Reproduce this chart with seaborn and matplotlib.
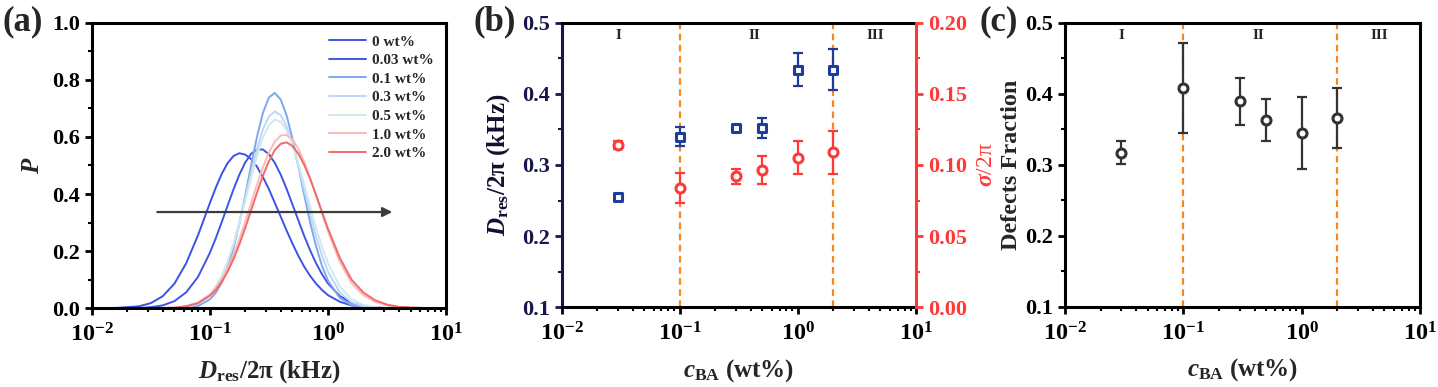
import numpy as np
import matplotlib
matplotlib.use("Agg")
import matplotlib.pyplot as plt
from matplotlib.ticker import MultipleLocator, LogLocator, NullFormatter, FormatStrFormatter
import seaborn as sns

# panel (a): P(D_res/2pi) on a log10 grid
log_d_grid = [-2.0, -1.8, -1.6, -1.5, -1.4, -1.3, -1.2, -1.1,
              -1.0, -0.95, -0.9, -0.85, -0.8, -0.75, -0.7, -0.65, -0.6, -0.55,
              -0.5, -0.45, -0.4, -0.35, -0.3, -0.25, -0.2, -0.15, -0.1, -0.05,
              0.0, 0.1, 0.2, 0.3, 0.4, 0.5, 0.6, 0.8, 1.0]
conc_labels = ["0 wt%", "0.03 wt%", "0.1 wt%", "0.3 wt%", "0.5 wt%", "1.0 wt%", "2.0 wt%"]
curve_colors = ["#3b52e6", "#3f56e4", "#80a6ef", "#bfd5f7", "#cdeaed", "#fcbaba", "#f26a6a"]

p_0wt = [0.000, 0.001, 0.007, 0.018, 0.042, 0.086, 0.158, 0.256,
         0.368, 0.422, 0.470, 0.508, 0.533, 0.543, 0.538, 0.522, 0.495, 0.459,
         0.417, 0.369, 0.321, 0.272, 0.226, 0.183, 0.145, 0.113, 0.086, 0.064,
         0.046, 0.023, 0.010, 0.004, 0.002, 0.001, 0.000, 0.000, 0.000]
p_003wt = [0.000, 0.000, 0.001, 0.004, 0.010, 0.025, 0.056, 0.110,
           0.194, 0.245, 0.301, 0.359, 0.416, 0.468, 0.511, 0.541, 0.556, 0.556,
           0.539, 0.509, 0.468, 0.418, 0.363, 0.307, 0.252, 0.202, 0.157, 0.119,
           0.087, 0.043, 0.019, 0.008, 0.003, 0.001, 0.000, 0.000, 0.000]
p_01wt = [0.000, 0.000, 0.000, 0.000, 0.000, 0.000, 0.002, 0.008,
          0.031, 0.054, 0.089, 0.141, 0.210, 0.296, 0.396, 0.502, 0.602, 0.685,
          0.738, 0.754, 0.731, 0.675, 0.593, 0.496, 0.395, 0.299, 0.216, 0.148,
          0.097, 0.036, 0.011, 0.003, 0.001, 0.000, 0.000, 0.000, 0.000]
p_03wt = [0.000, 0.000, 0.000, 0.000, 0.000, 0.001, 0.004, 0.015,
          0.044, 0.070, 0.108, 0.160, 0.224, 0.302, 0.388, 0.476, 0.559, 0.627,
          0.672, 0.689, 0.676, 0.636, 0.574, 0.497, 0.413, 0.329, 0.251, 0.184,
          0.129, 0.056, 0.021, 0.007, 0.002, 0.000, 0.000, 0.000, 0.000]
p_05wt = [0.000, 0.000, 0.000, 0.000, 0.000, 0.001, 0.005, 0.018,
          0.049, 0.076, 0.113, 0.163, 0.225, 0.297, 0.376, 0.458, 0.534, 0.598,
          0.641, 0.661, 0.653, 0.623, 0.572, 0.506, 0.432, 0.355, 0.281, 0.215,
          0.158, 0.076, 0.032, 0.012, 0.004, 0.001, 0.000, 0.000, 0.000]
p_10wt = [0.000, 0.000, 0.000, 0.000, 0.001, 0.002, 0.008, 0.020,
          0.048, 0.071, 0.101, 0.140, 0.187, 0.242, 0.304, 0.369, 0.434, 0.494,
          0.546, 0.584, 0.605, 0.607, 0.591, 0.558, 0.512, 0.456, 0.394, 0.331,
          0.269, 0.163, 0.088, 0.046, 0.022, 0.010, 0.004, 0.001, 0.000]
p_20wt = [0.000, 0.000, 0.000, 0.000, 0.001, 0.002, 0.007, 0.018,
          0.044, 0.064, 0.092, 0.128, 0.172, 0.224, 0.282, 0.344, 0.406, 0.465,
          0.515, 0.554, 0.576, 0.581, 0.568, 0.541, 0.501, 0.452, 0.396, 0.337,
          0.279, 0.177, 0.100, 0.055, 0.028, 0.013, 0.005, 0.001, 0.000]
curves = [p_0wt, p_003wt, p_01wt, p_03wt, p_05wt, p_10wt, p_20wt]

# panels (b), (c)
c_ba = [0.03, 0.1, 0.3, 0.5, 1.0, 2.0]
d_res = [0.255, 0.340, 0.352, 0.352, 0.434, 0.434]
d_res_err = [0.003, 0.014, 0.004, 0.0135, 0.0235, 0.029]
sigma = [0.114, 0.084, 0.092, 0.0965, 0.105, 0.109]
sigma_err = [0.003, 0.0107, 0.0055, 0.010, 0.0115, 0.0152]
defects = [0.317, 0.408, 0.389, 0.363, 0.345, 0.366]
defects_err = [0.016, 0.063, 0.033, 0.030, 0.051, 0.042]
boundaries = [0.1, 2.0]
region_names = ["I", "II", "III"]
region_x = [0.03, 0.43, 4.5]

NAVY = "#161650"
BLUE = "#1d3c9c"
RED = "#ff3838"
ORANGE = "#f5891f"
GREY = "#333333"

sns.set_theme(style="ticks")
plt.rcParams["font.family"] = ["Liberation Serif", "DejaVu Serif"]
plt.rcParams["font.weight"] = "bold"
plt.rcParams["axes.labelweight"] = "bold"
plt.rcParams["mathtext.fontset"] = "custom"
plt.rcParams["mathtext.rm"] = "Liberation Serif:bold"
plt.rcParams["mathtext.it"] = "Liberation Serif:italic:bold"
plt.rcParams["mathtext.bf"] = "Liberation Serif:bold"
plt.rcParams["mathtext.sf"] = "Liberation Serif:italic"
plt.rcParams["axes.edgecolor"] = "black"
plt.rcParams["xtick.color"] = "black"
plt.rcParams["ytick.color"] = "black"


def style_axes(ax):
    ax.set_xscale("log")
    ax.set_xlim(1e-2, 1e1)
    for sp in ax.spines.values():
        sp.set_linewidth(2.2)
        sp.set_visible(True)
    ax.tick_params(which="major", length=5, width=2, labelsize=16)
    ax.tick_params(which="minor", length=3, width=1.5)
    ax.tick_params(axis="x", which="major", pad=6, labelsize=17.5)
    ax.xaxis.set_minor_locator(LogLocator(base=10, subs=np.arange(2, 10), numticks=20))
    ax.xaxis.set_minor_formatter(NullFormatter())
    ax.grid(False)


fig = plt.figure(figsize=(14.38, 3.87), dpi=100)
ax_a = fig.add_axes([0.0638, 0.2034, 0.2464, 0.738])
ax_b = fig.add_axes([0.3906, 0.2060, 0.2464, 0.7354])
ax_c = fig.add_axes([0.7406, 0.2075, 0.2469, 0.7339])

# ---- (a) ----
d_vals = 10 ** np.array(log_d_grid)
for p, lab, col in zip(curves, conc_labels, curve_colors):
    sns.lineplot(x=d_vals, y=p, color=col, lw=1.4, label=lab, ax=ax_a, sort=True)
style_axes(ax_a)
ax_a.set_ylim(0, 1.0)
ax_a.yaxis.set_major_locator(MultipleLocator(0.2))
ax_a.yaxis.set_minor_locator(MultipleLocator(0.1))
ax_a.yaxis.set_major_formatter(FormatStrFormatter("%.1f"))
ax_a.annotate("", xy=(3.7, 0.337), xytext=(0.034, 0.337),
              arrowprops=dict(arrowstyle="-|>", color="#3c3c3c", lw=1.6, mutation_scale=14))
ax_a.legend(frameon=False, loc="upper right", bbox_to_anchor=(1.0, 1.0), fontsize=11,
            handlelength=2.4, handletextpad=0.4, labelspacing=0.32, borderaxespad=0.4)
ax_a.set_xlabel(r"$D_{\mathrm{res}}$/2π (kHz)", fontsize=18)
ax_a.set_ylabel(r"$P$", fontsize=18)
ax_a.xaxis.set_label_coords(0.5, -0.175)
ax_a.yaxis.set_label_coords(-0.135, 0.5)

# ---- (b) ----
ax_b2 = ax_b.twinx()
ax_b.errorbar(c_ba, d_res, yerr=d_res_err, fmt="none", ecolor=BLUE, elinewidth=1.6,
              capsize=3.5, capthick=1.6, zorder=2)
sns.scatterplot(x=c_ba, y=d_res, marker="s", s=36, facecolor="white", edgecolor=BLUE,
                linewidth=2.2, ax=ax_b, zorder=3)
ax_b2.errorbar(c_ba, sigma, yerr=sigma_err, fmt="none", ecolor=RED, elinewidth=1.6,
               capsize=3.5, capthick=1.6, zorder=2)
sns.scatterplot(x=c_ba, y=sigma, marker="o", s=42, facecolor="white", edgecolor=RED,
                linewidth=2.2, ax=ax_b2, zorder=3)
style_axes(ax_b)
ax_b2.set_xscale("log")
ax_b2.set_xlim(1e-2, 1e1)
ax_b.set_ylim(0.1, 0.5)
ax_b.yaxis.set_major_locator(MultipleLocator(0.1))
ax_b.yaxis.set_minor_locator(MultipleLocator(0.05))
ax_b.yaxis.set_major_formatter(FormatStrFormatter("%.1f"))
ax_b.spines["left"].set_color(NAVY)
ax_b.tick_params(axis="y", colors=NAVY, which="both")
ax_b2.set_ylim(0.0, 0.2)
ax_b2.yaxis.set_major_locator(MultipleLocator(0.05))
ax_b2.yaxis.set_minor_locator(MultipleLocator(0.025))
ax_b2.yaxis.set_major_formatter(FormatStrFormatter("%.2f"))
for side in ["left", "top", "bottom"]:
    ax_b2.spines[side].set_visible(False)
ax_b2.spines["right"].set_linewidth(2.2)
ax_b2.spines["right"].set_color(RED)
ax_b2.tick_params(which="major", length=5, width=2, labelsize=16, colors=RED)
ax_b2.tick_params(which="minor", length=3, width=1.5, colors=RED)
ax_b2.grid(False)
ax_b.spines["right"].set_visible(False)
ax_b.set_xlabel(r"$c_{\mathrm{BA}}$ (wt%)", fontsize=18)
ax_b.set_ylabel(r"$D_{\mathrm{res}}$/2π (kHz)", fontsize=18, color="#101030")
ax_b2.set_ylabel(r"$\mathsf{\sigma}$/2π", fontsize=17, color=RED, fontweight="normal")
ax_b.xaxis.set_label_coords(0.5, -0.175)
ax_b.yaxis.set_label_coords(-0.14, 0.5)
ax_b2.yaxis.set_label_coords(1.168, 0.5)

# ---- (c) ----
ax_c.errorbar(c_ba, defects, yerr=defects_err, fmt="none", ecolor=GREY, elinewidth=1.6,
              capsize=3.5, capthick=1.6, zorder=2)
sns.scatterplot(x=c_ba, y=defects, marker="o", s=42, facecolor="white", edgecolor=GREY,
                linewidth=2.2, ax=ax_c, zorder=3)
style_axes(ax_c)
ax_c.set_ylim(0.1, 0.5)
ax_c.yaxis.set_major_locator(MultipleLocator(0.1))
ax_c.yaxis.set_minor_locator(MultipleLocator(0.05))
ax_c.yaxis.set_major_formatter(FormatStrFormatter("%.1f"))
ax_c.set_xlabel(r"$c_{\mathrm{BA}}$ (wt%)", fontsize=18)
ax_c.set_ylabel("Defects Fraction", fontsize=17.5)
ax_c.xaxis.set_label_coords(0.5, -0.175)
ax_c.yaxis.set_label_coords(-0.122, 0.5)

for ax in [ax_b, ax_c]:
    for xb in boundaries:
        ax.axvline(xb, color=ORANGE, ls=(0, (3, 2)), lw=1.6, zorder=1)
    for name, xr in zip(region_names, region_x):
        ax.text(xr, 0.944, name, transform=ax.get_xaxis_transform(), ha="center",
                va="baseline", fontsize=11, fontweight="bold")

fig.text(0.002, 0.985, "(a)", fontsize=25, fontweight="bold", va="top", ha="left")
fig.text(0.329, 0.985, "(b)", fontsize=25, fontweight="bold", va="top", ha="left")
fig.text(0.681, 0.985, "(c)", fontsize=25, fontweight="bold", va="top", ha="left")

fig.savefig("out.png", dpi=100)
